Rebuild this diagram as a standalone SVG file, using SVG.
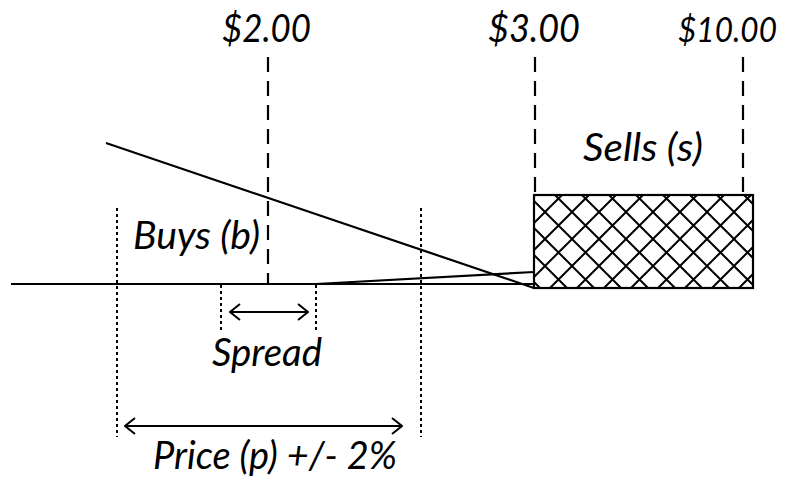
<svg xmlns="http://www.w3.org/2000/svg" width="793" height="479" viewBox="0 0 793 479">
<style>
.lbl{font-family:Lato,"Liberation Sans",sans-serif;font-style:italic;font-size:38px;fill:#000}
.solid{stroke:#000;stroke-width:2.2;fill:none}
.dash{stroke:#000;stroke-width:2.2;fill:none;stroke-dasharray:15 9}
.dot{stroke:#000;stroke-width:2;fill:none;stroke-dasharray:3 3}
.arr{stroke:#000;stroke-width:2;fill:none;marker-start:url(#v);marker-end:url(#v)}
</style>
<defs>
<pattern id="hatch" patternUnits="userSpaceOnUse" x="545" y="212" width="27" height="27">
<rect width="27" height="27" fill="#fff"/>
<path d="M0,0L27,27M27,0L0,27" stroke="#000" stroke-width="2"/>
</pattern>
<marker id="v" viewBox="0 0 12 18" refX="11" refY="9" markerWidth="12" markerHeight="18" markerUnits="userSpaceOnUse" orient="auto-start-reverse">
<path d="M1,1L11,9L1,17" fill="none" stroke="#000" stroke-width="2"/>
</marker>
</defs>
<g id="connectors">
<line class="solid" x1="11" y1="284" x2="534" y2="284"/>
<line class="solid" x1="106" y1="143" x2="534" y2="288"/>
<line class="solid" x1="316" y1="284" x2="534" y2="272"/>
<line class="dash" x1="268" y1="57" x2="268" y2="284"/>
<line class="dash" x1="535" y1="57" x2="535" y2="195"/>
<line class="dash" x1="743" y1="57" x2="743" y2="195"/>
<line class="dot" x1="117" y1="208" x2="117" y2="437"/>
<line class="dot" x1="421" y1="208" x2="421" y2="437"/>
<line class="dot" x1="221" y1="285" x2="221" y2="333"/>
<line class="dot" x1="316" y1="285" x2="316" y2="333"/>
<line class="arr" x1="230" y1="312" x2="308" y2="312"/>
<line class="arr" x1="125" y1="426" x2="402" y2="426"/>
</g>
<g id="sells-box">
<rect x="534" y="195" width="219" height="93" fill="url(#hatch)" stroke="#000" stroke-width="2.2"/>
</g>
<g id="labels">
<text class="lbl" x="222" y="42" textLength="89" lengthAdjust="spacingAndGlyphs">$2.00</text>
<text class="lbl" x="488" y="42" textLength="92" lengthAdjust="spacingAndGlyphs">$3.00</text>
<text class="lbl" x="678" y="42" style="font-size:35px" textLength="99" lengthAdjust="spacingAndGlyphs">$10.00</text>
<text class="lbl" x="583" y="161" textLength="120" lengthAdjust="spacingAndGlyphs">Sells (s)</text>
<text class="lbl" x="133" y="249" textLength="127" lengthAdjust="spacingAndGlyphs">Buys (b)</text>
<text class="lbl" x="212" y="366" textLength="110" lengthAdjust="spacingAndGlyphs">Spread</text>
<text class="lbl" x="153" y="469" textLength="244" lengthAdjust="spacingAndGlyphs">Price (p) +/- 2%</text>
</g>
</svg>
